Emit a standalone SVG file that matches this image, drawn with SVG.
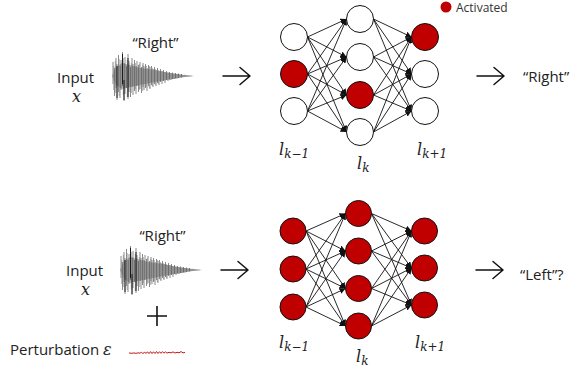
<svg xmlns="http://www.w3.org/2000/svg" width="574" height="370" viewBox="0 0 574 370">
<style>
.t{font-family:"Open Sans","Noto Sans",sans-serif;font-size:15px;fill:#222}
.m{font-family:"DejaVu Serif","Liberation Serif",serif;font-style:italic;fill:#222}
.n{stroke:#111;stroke-width:1}
.w{fill:#fff}
.r{fill:#C00000}
.c line{stroke:#111;stroke-width:0.9;marker-end:url(#ah)}
.arr{fill:none;stroke:#111;stroke-width:1.5;stroke-linecap:round;stroke-linejoin:round}
</style>
<defs>
<marker id="ah" viewBox="0 0 6 6" refX="6" refY="3" markerWidth="6" markerHeight="6" markerUnits="userSpaceOnUse" orient="auto">
<path d="M0,0 L6,3 L0,6 Z" fill="#111"/>
</marker>
<g id="wave">
<path d="M112,76 L116,67 L122,63 L130,65 L140,68 L155,70 L170,73 L185,75 L195,76 L185,77 L170,79.5 L155,82 L140,85 L130,87 L122,89 L116,85 Z" fill="#b8b8b8"/>
<path fill="none" stroke="#3a3a3a" stroke-width="0.6" d="M113,62V84 M114.5,68V96 M116,58V88 M117,64V100 M118.5,55V92 M120,66V98 M121,60V90 M122.5,52V86 M124,63V101 M125,57V94 M126.5,66V88 M128,54V99 M129,61V92 M130.5,67V97 M132,58V87 M133,64V95 M134.5,60V91 M136,66V94 M137,61V86 M138.5,65V92 M140,62V89 M141.5,67V93 M143,63V87 M144,66V90 M145.5,64V88 M147,68V91 M148.5,65V86 M150,67V89 M151.5,66V85 M153,69V87 M154.5,67V84 M156,70V86 M157.5,68V83 M159,71V85 M160.5,69V82 M162,71V84 M163.5,70V81 M165,72V83 M166.5,71V80 M168,72.5V81 M169.5,72V79.5 M171,73V80 M172.5,72.5V79 M174,73.5V79 M175.5,73V78.5 M177,74V78.5 M178.5,73.5V78 M180,74.5V77.5 M181.5,74V77.5 M183,75V77 M185,74.8V77 M187,75.3V76.8 M189,75.4V76.6 M191,75.6V76.4"/>
<path fill="none" stroke="#8a8a8a" stroke-width="0.7" d="M113.7,66V90 M115.3,61V93 M119.2,59V96 M123.3,58V95 M127.3,60V97 M131.3,63V93 M135.3,63V89 M139.3,64V90 M142.7,65V91 M146.3,66V87 M149.3,66V88 M152.3,68V86 M155.3,69V85 M158.3,70V84"/>
<path fill="none" stroke="#111" stroke-width="0.9" d="M117,66V98 M122.5,54V84 M128,58V97 M124,80V100"/>
</g>
</defs>
<rect width="574" height="370" fill="#fff"/>

<g id="legend">
<circle cx="446" cy="7" r="5.5" class="r"/>
<text x="456" y="12" class="t" style="font-size:12px;fill:#333">Activated</text>
</g>

<!-- top row -->
<g id="top-input">
<text x="57" y="83" class="t">Input</text>
<text x="76.5" y="102" class="m" font-size="16" text-anchor="middle">x</text>
</g>
<g id="top-wave">
<text x="155.5" y="48" class="t" text-anchor="middle">“Right”</text>
<use href="#wave"/>
</g>
<path class="arr" d="M223,76 H250 M240,67.5 L250,76 L240,84.5"/>
<path class="arr" d="M477,76 H504 M494,67.5 L504,76 L494,84.5"/>
<g id="top-output"><text x="523" y="82" class="t">“Right”</text></g>

<g class="c" id="top-connectors">
<line x1="307.5" y1="37" x2="346.5" y2="19"/><line x1="307.5" y1="37" x2="346.5" y2="57"/><line x1="307.5" y1="37" x2="346.5" y2="95"/><line x1="307.5" y1="37" x2="346.5" y2="132"/>
<line x1="307.5" y1="74" x2="346.5" y2="19"/><line x1="307.5" y1="74" x2="346.5" y2="57"/><line x1="307.5" y1="74" x2="346.5" y2="95"/><line x1="307.5" y1="74" x2="346.5" y2="132"/>
<line x1="307.5" y1="111" x2="346.5" y2="19"/><line x1="307.5" y1="111" x2="346.5" y2="57"/><line x1="307.5" y1="111" x2="346.5" y2="95"/><line x1="307.5" y1="111" x2="346.5" y2="132"/>
<line x1="373.5" y1="19" x2="411.5" y2="37"/><line x1="373.5" y1="19" x2="411.5" y2="74"/><line x1="373.5" y1="19" x2="411.5" y2="111"/>
<line x1="373.5" y1="57" x2="411.5" y2="37"/><line x1="373.5" y1="57" x2="411.5" y2="74"/><line x1="373.5" y1="57" x2="411.5" y2="111"/>
<line x1="373.5" y1="95" x2="411.5" y2="37"/><line x1="373.5" y1="95" x2="411.5" y2="74"/><line x1="373.5" y1="95" x2="411.5" y2="111"/>
<line x1="373.5" y1="132" x2="411.5" y2="37"/><line x1="373.5" y1="132" x2="411.5" y2="74"/><line x1="373.5" y1="132" x2="411.5" y2="111"/>
</g>

<g id="t-a1"><circle cx="294" cy="37" r="13.5" class="n w"/></g>
<g id="t-a2"><circle cx="294" cy="74" r="13.5" class="n r"/></g>
<g id="t-a3"><circle cx="294" cy="111" r="13.5" class="n w"/></g>
<g id="t-b1"><circle cx="360" cy="19" r="13.5" class="n w"/></g>
<g id="t-b2"><circle cx="360" cy="57" r="13.5" class="n w"/></g>
<g id="t-b3"><circle cx="360" cy="95" r="13.5" class="n r"/></g>
<g id="t-b4"><circle cx="360" cy="132" r="13.5" class="n w"/></g>
<g id="t-c1"><circle cx="425" cy="37" r="13.5" class="n r"/></g>
<g id="t-c2"><circle cx="425" cy="74" r="13.5" class="n w"/></g>
<g id="t-c3"><circle cx="425" cy="111" r="13.5" class="n w"/></g>

<g id="top-labels">
<text x="279" y="155" class="m" font-size="16">l<tspan font-size="12" dy="3">k−1</tspan></text>
<text x="357" y="169" class="m" font-size="16">l<tspan font-size="12" dy="3">k</tspan></text>
<text x="417" y="155" class="m" font-size="16">l<tspan font-size="12" dy="3">k+1</tspan></text>
</g>

<!-- bottom row -->
<g id="bottom-input">
<text x="66" y="276" class="t">Input</text>
<text x="85.5" y="295" class="m" font-size="16" text-anchor="middle">x</text>
</g>
<g id="bottom-wave">
<text x="162.5" y="241" class="t" text-anchor="middle">“Right”</text>
<use href="#wave" transform="translate(8,194)"/>
</g>
<g id="plus"><path d="M147,316 H167 M157,306 V326" stroke="#111" stroke-width="1.6" fill="none"/></g>
<g id="perturbation">
<text x="10" y="355" class="t">Perturbation <tspan class="m" font-size="16">ε</tspan></text>
<path d="M129,353 l3,0.3 l2,-0.4 l2,0.5 l2,-0.6 l2,0.4 l1.5,-1 l1.5,1.5 l1.5,-1.8 l1.5,1.6 l1.5,-1.7 l1.5,1.8 l1.5,-2 l1.5,2 l1.5,-1.8 l1.5,1.7 l1.5,-2 l1.5,2 l1.5,-1.8 l1.5,1.6 l1.5,-1.7 l1.5,1.5 l1.5,-1.2 l1.5,1.2 l2,-0.8 l2,0.6 l2,-1 l2,1.1 l2,-0.7 l2,0.5 l2,-1.2 l2,1.3 l2,-0.5" fill="none" stroke="#C00000" stroke-width="0.9"/>
</g>
<path class="arr" d="M221,270 H248 M238,261.5 L248,270 L238,278.5"/>
<path class="arr" d="M476,270 H503 M493,261.5 L503,270 L493,278.5"/>
<g id="bottom-output"><text x="520" y="280" class="t">“Left”?</text></g>

<g class="c" id="bottom-connectors">
<line x1="306" y1="231" x2="345.5" y2="213.5"/><line x1="306" y1="231" x2="345.5" y2="251"/><line x1="306" y1="231" x2="345.5" y2="288.5"/><line x1="306" y1="231" x2="345.5" y2="326"/>
<line x1="306" y1="269" x2="345.5" y2="213.5"/><line x1="306" y1="269" x2="345.5" y2="251"/><line x1="306" y1="269" x2="345.5" y2="288.5"/><line x1="306" y1="269" x2="345.5" y2="326"/>
<line x1="306" y1="307" x2="345.5" y2="213.5"/><line x1="306" y1="307" x2="345.5" y2="251"/><line x1="306" y1="307" x2="345.5" y2="288.5"/><line x1="306" y1="307" x2="345.5" y2="326"/>
<line x1="371.5" y1="213.5" x2="411.5" y2="231"/><line x1="371.5" y1="213.5" x2="411.5" y2="268"/><line x1="371.5" y1="213.5" x2="411.5" y2="305"/>
<line x1="371.5" y1="251" x2="411.5" y2="231"/><line x1="371.5" y1="251" x2="411.5" y2="268"/><line x1="371.5" y1="251" x2="411.5" y2="305"/>
<line x1="371.5" y1="288.5" x2="411.5" y2="231"/><line x1="371.5" y1="288.5" x2="411.5" y2="268"/><line x1="371.5" y1="288.5" x2="411.5" y2="305"/>
<line x1="371.5" y1="326" x2="411.5" y2="231"/><line x1="371.5" y1="326" x2="411.5" y2="268"/><line x1="371.5" y1="326" x2="411.5" y2="305"/>
</g>

<g id="b-a1"><circle cx="293" cy="231" r="13" class="n r"/></g>
<g id="b-a2"><circle cx="293" cy="269" r="13" class="n r"/></g>
<g id="b-a3"><circle cx="293" cy="307" r="13" class="n r"/></g>
<g id="b-b1"><circle cx="358.5" cy="213.5" r="13" class="n r"/></g>
<g id="b-b2"><circle cx="358.5" cy="251" r="13" class="n r"/></g>
<g id="b-b3"><circle cx="358.5" cy="288.5" r="13" class="n r"/></g>
<g id="b-b4"><circle cx="358.5" cy="326" r="13" class="n r"/></g>
<g id="b-c1"><circle cx="424.5" cy="231" r="13" class="n r"/></g>
<g id="b-c2"><circle cx="424.5" cy="268" r="13" class="n r"/></g>
<g id="b-c3"><circle cx="424.5" cy="305" r="13" class="n r"/></g>

<g id="bottom-labels">
<text x="279" y="348" class="m" font-size="16">l<tspan font-size="12" dy="3">k−1</tspan></text>
<text x="356" y="362" class="m" font-size="16">l<tspan font-size="12" dy="3">k</tspan></text>
<text x="415" y="348" class="m" font-size="16">l<tspan font-size="12" dy="3">k+1</tspan></text>
</g>
</svg>
